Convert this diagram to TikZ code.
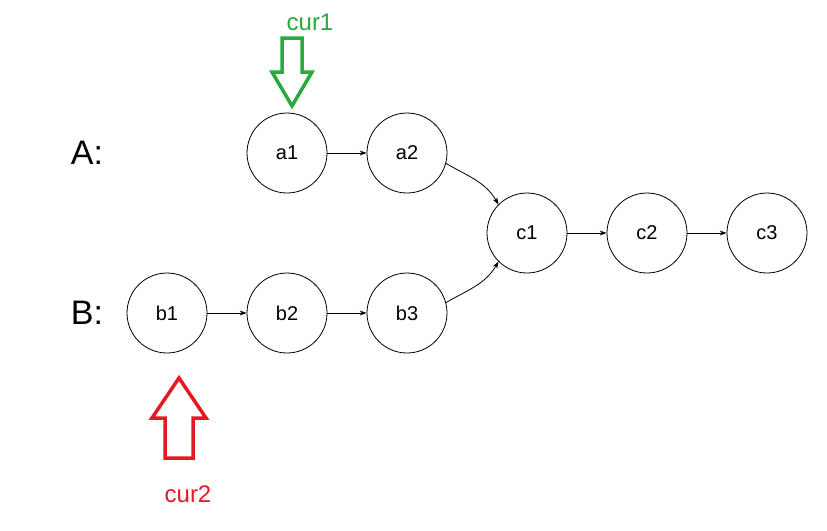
\documentclass[tikz,border=0pt]{standalone}
\usepackage{fontspec}
\setmainfont{Liberation Sans}
\usetikzlibrary{arrows.meta}
\begin{document}
\begin{tikzpicture}[x=1pt,y=-1pt,
  nd/.style={circle,draw,line width=0.8pt,minimum size=80pt,inner sep=0pt,font=\fontsize{20}{24}\selectfont},
  lbl/.style={font=\fontsize{34}{40}\selectfont},
  ar/.style={-{Stealth[length=7pt,width=5pt]},line width=0.8pt}]
\useasboundingbox (0,0) rectangle (827,530);
\node[nd] (a1) at (287,153) {a1};
\node[nd] (a2) at (407,153) {a2};
\node[nd] (c1) at (527,233) {c1};
\node[nd] (c2) at (647,233) {c2};
\node[nd] (c3) at (767,233) {c3};
\node[nd] (b1) at (167,313) {b1};
\node[nd] (b2) at (287,313) {b2};
\node[nd] (b3) at (407,313) {b3};
\node[lbl] (la) at (87,153) {A:};
\node[lbl] (lb) at (87,313) {B:};
\draw[ar] (a1) -- (a2);
\draw[ar] (c1) -- (c2);
\draw[ar] (c2) -- (c3);
\draw[ar] (b1) -- (b2);
\draw[ar] (b2) -- (b3);
\draw[ar] (a2.-15) to[out=-30,in=120] (c1.135);
\draw[ar] (b3.15) to[out=30,in=-120] (c1.-135);
\draw[green!60!black!80!green,color={rgb,255:red,40;green,170;blue,60},line width=3.5pt,line join=miter]
  (282,38) -- (302,38) -- (302,72) -- (312,72) -- (292,106) -- (272,72) -- (282,72) -- cycle;
\node[text={rgb,255:red,40;green,170;blue,60},font=\fontsize{24}{28}\selectfont] (t1) at (310,22) {cur1};
\draw[color={rgb,255:red,230;green,25;blue,35},line width=3.5pt,line join=miter]
  (179,378) -- (206,418) -- (193,418) -- (193,458) -- (165,458) -- (165,418) -- (152,418) -- cycle;
\node[text={rgb,255:red,230;green,25;blue,35},font=\fontsize{24}{28}\selectfont] (t2) at (188,494) {cur2};
\end{tikzpicture}
\end{document}
